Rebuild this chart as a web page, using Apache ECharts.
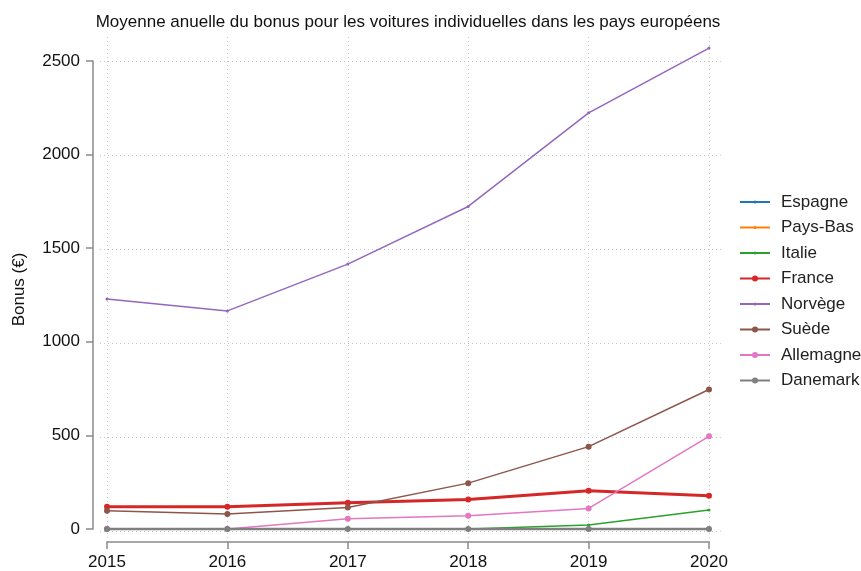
<!DOCTYPE html>
<html>
<head>
<meta charset="utf-8">
<script src="https://cdn.jsdelivr.net/npm/echarts@6/dist/echarts.min.js"></script>
<style>
  html, body { margin: 0; padding: 0; background: #fff; }
  #chart { width: 861px; height: 571px; }
</style>
</head>
<body>
<div id="chart"></div>
<script>
// Données (bonus moyen en €)
const annees = [2015, 2016, 2017, 2018, 2019, 2020];
const pays = ['Espagne', 'Pays-Bas', 'Italie', 'France', 'Norvège', 'Suède', 'Allemagne', 'Danemark'];
const espagne = [0, 0, 0, 0, 0, 0];
const paysBas = [0, 0, 0, 0, 0, 0];
const italie = [0, 0, 0, 0, 21, 101];
const france = [119, 119, 140, 158, 204, 177];
const norvege = [1229, 1165, 1415, 1723, 2223, 2569];
const suede = [97, 80, 115, 245, 440, 745];
const allemagne = [0, 0, 55, 71, 110, 495];
const danemark = [0, 0, 0, 0, 0, 0];
const valeurs = [espagne, paysBas, italie, france, norvege, suede, allemagne, danemark];

const couleurs = ['#1f77b4', '#ff7f0e', '#2ca02c', '#d62728', '#9467bd', '#8c564b', '#e377c2', '#7f7f7f'];
const epaisseurs = [1.5, 1.5, 1.5, 3, 1.5, 1.5, 1.5, 2.5];
const tailles = [3, 3, 3, 6, 3, 6, 6, 6];

const police = "'Liberation Sans', Arial, sans-serif";
const chart = echarts.init(document.getElementById('chart'));

const series = pays.map((nom, i) => ({
  name: nom,
  type: 'line',
  xAxisIndex: 0,
  yAxisIndex: 0,
  clip: false,
  symbol: 'circle',
  symbolSize: tailles[i],
  showSymbol: true,
  color: couleurs[i],
  lineStyle: { width: epaisseurs[i], color: couleurs[i] },
  itemStyle: { color: couleurs[i] },
  emphasis: { disabled: true },
  z: 3 + i,
  data: annees.map((a, j) => [a, valeurs[i][j]])
}));

// une légende par pays pour garder la taille du marqueur de chaque série
const legendes = pays.map((nom, i) => ({
  orient: 'vertical',
  left: 739, top: 193.5 + i * 25.5,
  padding: 0,
  itemWidth: 30, itemHeight: tailles[i] / 0.8,
  textStyle: { fontSize: 17, color: '#222', fontFamily: police, padding: [0, 0, 0, 6] },
  data: [nom]
}));

chart.setOption({
  animation: false,
  textStyle: { fontFamily: police },
  title: {
    text: 'Moyenne anuelle du bonus pour les voitures individuelles dans les pays européens',
    left: 403, textAlign: 'center', top: 9,
    textStyle: { fontSize: 17, fontWeight: 'normal', color: '#111', fontFamily: police }
  },
  legend: legendes,
  grid: [
    // données + axes décalés
    { left: 107, top: 61, width: 602, height: 470 },
    // grille verticale
    { left: 107, top: 37, width: 602, height: 505 },
    // grille horizontale
    { left: 100, top: 61, width: 622, height: 470 }
  ],
  xAxis: [
    {
      gridIndex: 0, type: 'value', min: 2015, max: 2020, interval: 1,
      offset: 13,
      axisLine: { show: true, onZero: false, lineStyle: { color: '#8a8a8a', width: 1.5 } },
      axisTick: { show: true, length: 7, lineStyle: { color: '#8a8a8a', width: 1.5 } },
      axisLabel: { fontSize: 17, color: '#111', margin: 12, formatter: v => String(v) },
      splitLine: { show: false }
    },
    {
      gridIndex: 1, type: 'value', min: 2015, max: 2020, interval: 1,
      axisLine: { show: false }, axisTick: { show: false }, axisLabel: { show: false },
      splitLine: { show: true, lineStyle: { color: '#c8c8c8', type: [1, 3], width: 1 } }
    },
    {
      gridIndex: 2, type: 'value', min: 0, max: 1,
      axisLine: { show: false }, axisTick: { show: false }, axisLabel: { show: false },
      splitLine: { show: false }
    }
  ],
  yAxis: [
    {
      gridIndex: 0, type: 'value', min: 0, max: 2500, interval: 500,
      offset: 14,
      axisLine: { show: true, onZero: false, lineStyle: { color: '#8a8a8a', width: 1.5 } },
      axisTick: { show: true, length: 7, lineStyle: { color: '#8a8a8a', width: 1.5 } },
      axisLabel: { fontSize: 17, color: '#111', margin: 13, formatter: v => String(v) },
      splitLine: { show: false }
    },
    {
      // porte le titre de l'axe, centré sur la hauteur totale du cadre
      gridIndex: 1, type: 'value', min: 0, max: 1,
      name: 'Bonus (€)', nameLocation: 'middle', nameGap: 79, nameRotate: 90,
      nameTextStyle: { fontSize: 17, color: '#111', fontFamily: police },
      axisLine: { show: false, onZero: false }, axisTick: { show: false }, axisLabel: { show: false },
      splitLine: { show: false }
    },
    {
      gridIndex: 2, type: 'value', min: 0, max: 2500, interval: 500,
      axisLine: { show: false }, axisTick: { show: false }, axisLabel: { show: false },
      splitLine: { show: true, lineStyle: { color: '#c8c8c8', type: [1, 3], width: 1 } }
    }
  ],
  series: series
});
</script>
</body>
</html>
